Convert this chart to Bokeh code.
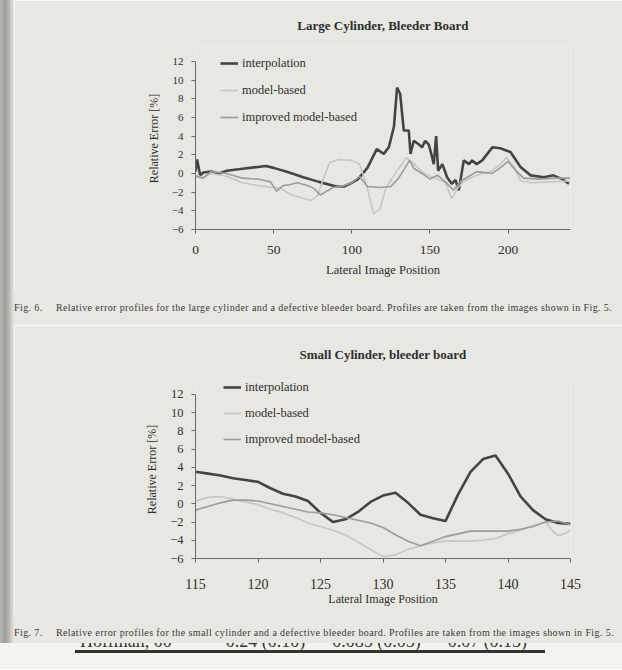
from bokeh.plotting import figure
from bokeh.models import Range1d, FixedTicker, Div
from bokeh.layouts import column, row
from bokeh.embed import file_html
from bokeh.resources import INLINE

BG = "#e8e8e3"
SERIF = "Liberation Serif"
TXT = "#2e2e2e"

# ---------------- data: Fig. 6 (large cylinder) ----------------
large_interp_x = [0, 1, 3, 5, 10, 15, 20, 30, 40, 45, 50, 60, 69, 79, 90, 95, 100, 104, 110, 116, 120.5, 123.7,
                  127, 129, 131, 133.3, 136.5, 137.6, 139.7, 143, 145, 147, 149.3, 151.5, 152.5, 154, 155.3,
                  158, 161, 164, 166.4, 168.5, 171.7, 175, 177, 180, 183.5, 190, 195, 201.6, 208, 214.4,
                  223, 229, 234.7, 239]
large_interp_y = [0.2, 1.5, -0.2, 0.1, 0.2, 0.0, 0.3, 0.5, 0.7, 0.8, 0.6, 0.1, -0.4, -0.9, -1.4, -1.4, -1.0,
                  -0.6, 0.6, 2.6, 2.1, 2.8, 5.0, 9.2, 8.5, 4.6, 4.6, 2.1, 3.5, 3.1, 2.8, 3.5, 3.1, 1.7, 1.0,
                  4.0, 0.3, 1.0, -0.4, -1.1, -0.7, -1.8, 1.4, 1.0, 1.4, 1.0, 1.4, 2.8, 2.7, 2.3, 0.7, -0.2,
                  -0.4, -0.2, -0.6, -1.1]

large_model_x = [0, 5, 10, 20, 30, 40, 50, 55, 60, 68, 74, 78, 82, 86, 92, 100, 105, 109, 114, 118, 122, 129,
                 135, 140, 145, 150, 155, 160, 164, 168, 172, 180, 190, 195, 199, 204, 208, 215, 225, 240]
large_model_y = [-0.2, -0.4, 0.0, -0.3, -1.0, -1.3, -1.5, -1.6, -2.2, -2.6, -2.9, -2.4, -0.5, 1.2, 1.5, 1.4,
                 1.0, -1.0, -4.3, -3.8, -1.5, 0.3, 1.7, 1.0, 0.2, -0.3, -0.6, -1.0, -2.7, -1.5, -0.8, -0.2,
                 0.3, 1.0, 1.7, 0.7, -0.8, -1.0, -0.9, -0.8]

large_impr_x = [0, 5, 10, 20, 30, 40, 48, 52, 56, 60, 65, 70, 75, 80, 83, 88, 95, 100, 105, 110, 118, 125, 130,
                137, 140, 145, 150, 155, 160, 165, 170, 175, 180, 190, 195, 200, 205, 210, 220, 230, 240]
large_impr_y = [-0.3, -0.5, 0.2, 0.0, -0.5, -0.6, -0.9, -1.9, -1.3, -1.2, -1.0, -1.2, -1.5, -2.3, -2.0, -1.5,
                -1.3, -1.0, -0.3, -1.4, -1.5, -1.4, -0.5, 1.4, 0.5, 0.0, -0.6, -0.2, -0.9, -1.8, -0.8, -0.3,
                0.2, 0.0, 0.6, 1.3, 0.3, -0.5, -0.6, -0.5, -0.5]

# ---------------- data: Fig. 7 (small cylinder) ----------------
small_x = [115, 116, 117, 118, 119, 120, 121, 122, 123, 124, 125, 126, 127, 128, 129, 130,
           131, 132, 133, 134, 135, 136, 137, 138, 139, 140, 141, 142, 143, 144, 145]
small_interp_y = [3.5, 3.3, 3.1, 2.8, 2.6, 2.4, 1.7, 1.1, 0.8, 0.3, -1.0, -2.0, -1.7, -0.9, 0.2, 0.9,
                  1.2, 0.1, -1.2, -1.6, -1.9, 1.0, 3.5, 4.9, 5.3, 3.3, 0.8, -0.7, -1.7, -2.1, -2.2]
small_model_x = [115, 116, 117, 118, 119, 120, 121, 122, 123, 124, 125, 126, 127, 128, 129, 130,
                 131, 132, 133, 134, 135, 136, 137, 138, 139, 140, 141, 142, 143, 143.5, 144, 144.5, 145]
small_model_y = [0.3, 0.7, 0.8, 0.5, 0.2, -0.1, -0.6, -1.0, -1.5, -2.1, -2.5, -2.9, -3.4, -4.2, -5.0, -5.8,
                 -5.6, -5.0, -4.6, -4.3, -4.1, -4.1, -4.1, -4.0, -3.8, -3.3, -2.9, -2.4, -2.0, -2.9, -3.5,
                 -3.3, -2.9]
small_impr_y = [-0.7, -0.3, 0.1, 0.4, 0.4, 0.3, 0.0, -0.3, -0.6, -0.9, -1.0, -1.2, -1.5, -1.8, -2.1, -2.6,
                -3.4, -4.1, -4.6, -4.1, -3.6, -3.3, -3.0, -3.0, -3.0, -3.0, -2.8, -2.5, -2.0, -1.9, -2.3]

series_names = ["interpolation", "model-based", "improved model-based"]
series_colors = ["#454545", "#c6c6c2", "#9c9c98"]
series_widths = [2.6, 1.6, 1.6]

y_min, y_max = -6, 12
y_ticks = [-6, -4, -2, 0, 2, 4, 6, 8, 10, 12]
large_x_ticks = [0, 50, 100, 150, 200]
small_x_ticks = [115, 120, 125, 130, 135, 140, 145]

caption6 = ("Fig. 6.\u2003 Relative error profiles for the large cylinder and a defective bleeder board. "
            "Profiles are taken from the images shown in Fig. 5.")
caption7 = ("Fig. 7.\u2003 Relative error profiles for the small cylinder and a defective bleeder board. "
            "Profiles are taken from the images shown in Fig. 5.")
footer_text = "Hoffman, 00            0.24 (0.10)      0.085 (0.05)      0.07 (0.15)"


def make_fig(title, xr, xticks, height, left, right, top, bottom, axis_px, xs, ys, legend_loc,
             legend_spacing, ytick_size, xtick_size, xlabel_size, x_standoff, xlab_standoff,
             title_standoff):
    # headroom above the "12" tick so that the legend can sit at the top of the axis
    head = (top_gap := (height - top - bottom) - axis_px) * (y_max - y_min) / axis_px
    p = figure(width=608, height=height, x_range=Range1d(*xr), y_range=Range1d(y_min, y_max + head),
               output_backend="svg", toolbar_location=None,
               min_border_left=left, min_border_right=right,
               min_border_top=top, min_border_bottom=bottom,
               background_fill_color=BG, border_fill_color=BG, outline_line_color=None)
    p.title.text = title
    p.title.align = "center"
    p.title.text_font = SERIF
    p.title.text_font_style = "bold"
    p.title.text_font_size = "13px"
    p.title.text_color = TXT
    p.title.standoff = title_standoff
    p.grid.visible = False
    for xv, yv, name, col, w in zip(xs, ys, series_names, series_colors, series_widths):
        p.line(xv, yv, line_color=col, line_width=w, legend_label=name)
    p.xaxis.ticker = FixedTicker(ticks=xticks)
    p.yaxis.ticker = FixedTicker(ticks=y_ticks)
    p.yaxis.bounds = (y_min, y_max)
    p.xaxis.axis_label = "Lateral Image Position"
    p.yaxis.axis_label = "Relative Error [%]"
    for ax in (p.xaxis[0], p.yaxis[0]):
        ax.axis_line_color = "#6a6a6a"
        ax.major_tick_line_color = "#6a6a6a"
        ax.minor_tick_line_color = None
        ax.major_tick_out = 4
        ax.major_tick_in = 0
        ax.major_label_text_font = SERIF
        ax.major_label_text_color = TXT
        ax.axis_label_text_font = SERIF
        ax.axis_label_text_color = TXT
        ax.axis_label_text_font_style = "normal"
    p.yaxis.major_label_text_font_size = ytick_size
    p.xaxis.major_label_text_font_size = xtick_size
    p.xaxis.axis_label_text_font_size = xlabel_size
    p.yaxis.axis_label_text_font_size = "12px"
    p.yaxis.major_label_standoff = 8
    p.yaxis.axis_label_standoff = 8
    p.xaxis.major_label_standoff = x_standoff
    p.xaxis.axis_label_standoff = xlab_standoff
    lg = p.legend[0]
    lg.location = legend_loc
    lg.background_fill_alpha = 0
    lg.border_line_alpha = 0
    lg.padding = 0
    lg.margin = 0
    lg.spacing = legend_spacing
    lg.label_height = 20
    lg.glyph_height = 20
    lg.glyph_width = 18
    lg.label_standoff = 4
    lg.label_text_font = SERIF
    lg.label_text_font_size = "12.5px"
    lg.label_text_color = TXT
    return p


fig6 = make_fig("Large Cylinder, Bleeder Board", (0, 240), large_x_ticks, 290, 181, 52, 46, 61, 169,
                [large_interp_x, large_model_x, large_impr_x],
                [large_interp_y, large_model_y, large_impr_y],
                (25, 102), 7, "11px", "13.5px", "12.5px", 12, 6, 30)

fig7 = make_fig("Small Cylinder, bleeder board", (115, 145), small_x_ticks, 290, 178, 47, 52, 57, 167,
                [small_x, small_model_x, small_x],
                [small_interp_y, small_model_y, small_impr_y],
                (28, 109), 6, "12.5px", "14px", "12px", 16, 0, 38)

cap_style = {"background-color": BG, "font-family": SERIF, "font-size": "10px", "color": "#3a3a3a",
             "white-space": "nowrap", "letter-spacing": "0.4px", "line-height": "12px",
             "padding-top": "12px", "overflow": "hidden"}
cap6 = Div(text=caption6, width=608, height=35, margin=(0, 0, 0, 0), styles=cap_style)
cap7 = Div(text=caption7, width=608, height=28, margin=(0, 0, 0, 0), styles=cap_style)

strip = Div(text="", width=14, height=643, margin=(0, 0, 0, 0),
            styles={"background": "linear-gradient(to right, #b4b4b0 0%, #9c9c99 35%, #b8b8b4 65%, "
                                  + BG + " 100%)"})

footer_html = ('<div style="height:26px;overflow:hidden;background:#f3f3ef;">'
               '<div style="margin-top:-11px;margin-left:80px;font-family:\'Liberation Serif\';'
               'font-size:18px;line-height:18px;color:#333;white-space:pre;">' + footer_text + '</div>'
               '<div style="margin-left:75px;width:470px;height:3px;background:#333;"></div></div>')
footer = Div(text=footer_html, width=622, height=26, margin=(0, 0, 0, 0),
             styles={"background-color": "#f3f3ef", "overflow": "hidden"})

page = column(row(strip, column(fig6, cap6, fig7, cap7, spacing=0), spacing=0), footer, spacing=0)

open("out.html", "w").write(file_html(page, INLINE))
